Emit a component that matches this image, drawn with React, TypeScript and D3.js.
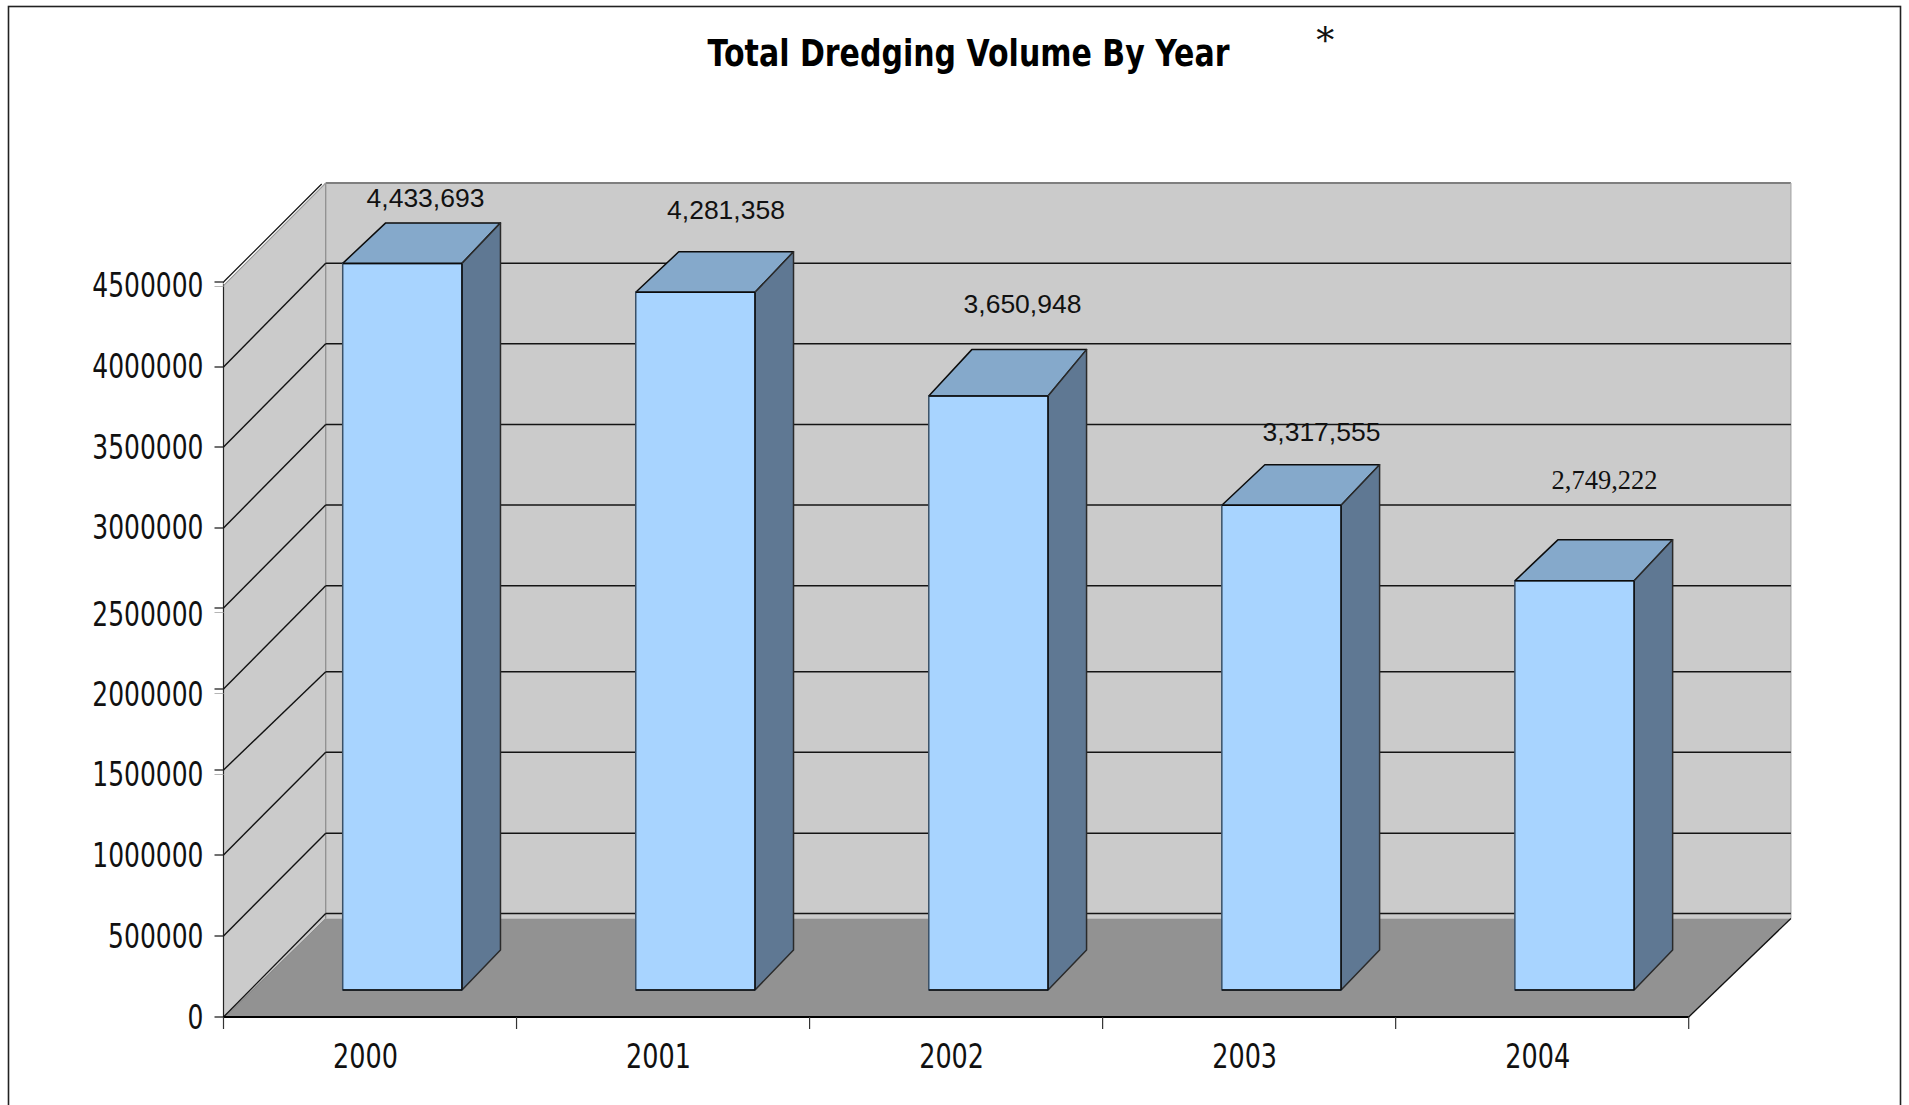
import React from "react";
import * as d3 from "d3";

const years = ["2000", "2001", "2002", "2003", "2004"];
const barValues = [4470000, 4292000, 3654000, 2982000, 2517000];
const valueLabels = ["4,433,693", "4,281,358", "3,650,948", "3,317,555", "2,749,222"];
const axisTicks = [0, 500000, 1000000, 1500000, 2000000, 2500000, 3000000, 3500000, 4000000, 4500000];
const ghostTicks = [1500000, 2000000, 2500000, 4500000];

// layout
const labelCenters = [425.5, 726, 1022.5, 1321.5, 1604.5];
const labelBaselines = [207, 219, 313, 441, 489];
const labelFonts = ["Liberation Sans", "Liberation Sans", "Liberation Sans", "Liberation Sans", "Liberation Serif"];
const frontStops = [1017, 936, 855, 770, 689, 608, 528, 447, 367, 282];
const backStops = [913.5, 833.3, 752.3, 671.7, 585.7, 505, 424.5, 343.7, 263.3, 183];
const labelStops = [1029, 947.7, 867.2, 786, 705.5, 625.5, 539, 458.5, 378.3, 296.7];
const topDepths = [40.5, 40.5, 46.4, 40.5, 41];

const W = 1909, H = 1105;
const FRONT_LEFT = 223.5, FRONT_RIGHT = 1688.7;
const DEPTH_X = 102.2;
const yFront = d3.scaleLinear().domain(axisTicks).range(frontStops);
const yBack = d3.scaleLinear().domain(axisTicks).range(backStops);
const yLabel = d3.scaleLinear().domain(axisTicks).range(labelStops);
const yBar = d3.scaleLinear().domain([0, 4500000]).range([990, 258.5]);
const x = d3.scaleBand<string>().domain(years).range([FRONT_LEFT, FRONT_RIGHT]);
const BAR_OFFSET = 0.4068, BAR_WIDTH = 0.407;
const TOP_DX = 43, SIDE_DX = 38.5, BASE_DY = -40;

const NARROW = "DejaVu Sans";
const pts = (p: [number, number][]) => p.map((d) => d.join(",")).join(" ");

export default function App() {
  const bw = x.bandwidth();
  const backLeft = FRONT_LEFT + DEPTH_X;
  const backRight = FRONT_RIGHT + DEPTH_X;
  const floorBack = 918.5;
  const backTop = yBack(4500000);
  const frontTop = yFront(4500000);
  return (
    <svg width={W} height={H} viewBox={`0 0 ${W} ${H}`} style={{ position: "absolute", left: 0, top: 0, background: "#fff" }}>
      <rect x={8.5} y={6.5} width={1892} height={H + 40} fill="#fff" stroke="#222" strokeWidth={1.6} />

      {/* back wall */}
      <rect x={backLeft} y={backTop} width={backRight - backLeft} height={floorBack - backTop} fill="#cbcbcb" />
      <line x1={backLeft} x2={backRight} y1={backTop} y2={backTop} stroke="#7f7f7f" strokeWidth={1.8} />
      <line x1={backRight} x2={backRight} y1={backTop} y2={floorBack} stroke="#a8a8a8" strokeWidth={1.2} />
      {/* left wall */}
      <polygon points={pts([[FRONT_LEFT, frontTop + 3.5], [backLeft, backTop], [backLeft, floorBack], [FRONT_LEFT, yFront(0)]])} fill="#cbcbcb" />
      <line x1={backLeft} x2={backLeft} y1={backTop} y2={floorBack} stroke="#8f8f8f" strokeWidth={1.3} />
      <line x1={FRONT_LEFT} x2={FRONT_LEFT} y1={frontTop} y2={yFront(0)} stroke="#222" strokeWidth={1.2} />
      <line x1={FRONT_LEFT} x2={backLeft} y1={frontTop + 3.5} y2={backTop} stroke="#9a9a9a" strokeWidth={1.2} />
      <line x1={FRONT_LEFT} x2={backLeft - 2} y1={frontTop + 1.8} y2={backTop} stroke="#fff" strokeWidth={1.2} />
      <line x1={FRONT_LEFT} x2={backLeft - 4} y1={frontTop} y2={backTop + 1} stroke="#111" strokeWidth={1.2} />
      {/* floor */}
      <polygon points={pts([[FRONT_LEFT, yFront(0)], [backLeft, floorBack], [backRight, floorBack], [FRONT_RIGHT, yFront(0)]])} fill="#929292" />
      <line x1={FRONT_RIGHT} x2={backRight} y1={yFront(0)} y2={floorBack} stroke="#111" strokeWidth={1.3} />
      <line x1={FRONT_LEFT} x2={backLeft} y1={yFront(0)} y2={yBack(0)} stroke="#111" strokeWidth={1.3} />
      <line x1={FRONT_LEFT + 2} x2={backLeft} y1={yFront(0)} y2={floorBack} stroke="#8a8a8a" strokeWidth={1} />

      {/* gridlines, y axis */}
      {axisTicks.map((t) => (
        <g key={t}>
          {t < 4500000 && <line x1={backLeft} x2={backRight} y1={yBack(t)} y2={yBack(t)} stroke="#141414" strokeWidth={1.5} />}
          {t > 0 && t < 4500000 && <line x1={FRONT_LEFT} x2={backLeft} y1={yFront(t)} y2={yBack(t)} stroke="#111" strokeWidth={1.4} />}
          <line x1={FRONT_LEFT - 9} x2={FRONT_LEFT} y1={yFront(t)} y2={yFront(t)} stroke="#222" strokeWidth={1.3} />
          {ghostTicks.includes(t) && (
            <line x1={FRONT_LEFT - 9} x2={FRONT_LEFT} y1={yFront(t) + 4.5} y2={yFront(t) + 4.5} stroke="#b5b5b5" strokeWidth={1} />
          )}
          <text transform={`translate(203.5,${yLabel(t)}) scale(0.735,1)`} textAnchor="end" fontFamily={NARROW} fontSize={34} fill="#111">
            {t}
          </text>
        </g>
      ))}

      {/* x axis */}
      <line x1={FRONT_LEFT} x2={FRONT_RIGHT} y1={yFront(0)} y2={yFront(0)} stroke="#000" strokeWidth={2} />
      {[...years.map((y) => x(y) as number), FRONT_RIGHT].map((v, i) => (
        <line key={i} x1={v} x2={v} y1={yFront(0)} y2={yFront(0) + 12} stroke="#333" strokeWidth={1.2} />
      ))}
      {years.map((y) => (
        <text key={y} transform={`translate(${(x(y) as number) + bw / 2 - 4.5},1068) scale(0.75,1)`} textAnchor="middle" fontFamily={NARROW} fontSize={34} fill="#111">
          {y}
        </text>
      ))}

      {/* bars */}
      {years.map((y, i) => {
        const x0 = (x(y) as number) + BAR_OFFSET * bw;
        const x1 = x0 + BAR_WIDTH * bw;
        const top = yBar(barValues[i]);
        const base = yBar(0);
        const back = top - topDepths[i];
        return (
          <g key={y} stroke="#0c0c0c" strokeWidth={1.5} strokeLinejoin="round">
            <polygon fill="#85a9cb" points={pts([[x0, top], [x0 + TOP_DX, back], [x1 + SIDE_DX, back], [x1, top]])} />
            <polygon fill="#5f7893" stroke="#2a2a2a" points={pts([[x1, top], [x1 + SIDE_DX, back], [x1 + SIDE_DX, base + BASE_DY], [x1, base]])} />
            <rect x={x0} y={top} width={x1 - x0} height={base - top} fill="#a8d4ff" stroke="#3a5066" />
            <line x1={x0} x2={x1} y1={top} y2={top} />
            <line x1={x1} x2={x1} y1={top} y2={base} />
            <line x1={x0} x2={x1} y1={base} y2={base} />
          </g>
        );
      })}

      {/* value labels */}
      {valueLabels.map((l, i) => (
        <text key={l} x={labelCenters[i]} y={labelBaselines[i]} textAnchor="middle" fontFamily={labelFonts[i]} fontSize={26.5} fill="#111">
          {l}
        </text>
      ))}

      {/* title */}
      <text transform="translate(968.5,66) scale(0.74,1)" textAnchor="middle" fontFamily={NARROW} fontWeight="bold" fontSize={37} fill="#000" textLength={522 / 0.74} lengthAdjust="spacingAndGlyphs">
        Total Dredging Volume By Year
      </text>
      <text x={1325.3} y={53} textAnchor="middle" fontFamily="DejaVu Serif" fontSize={36} fill="#111">*</text>
    </svg>
  );
}
